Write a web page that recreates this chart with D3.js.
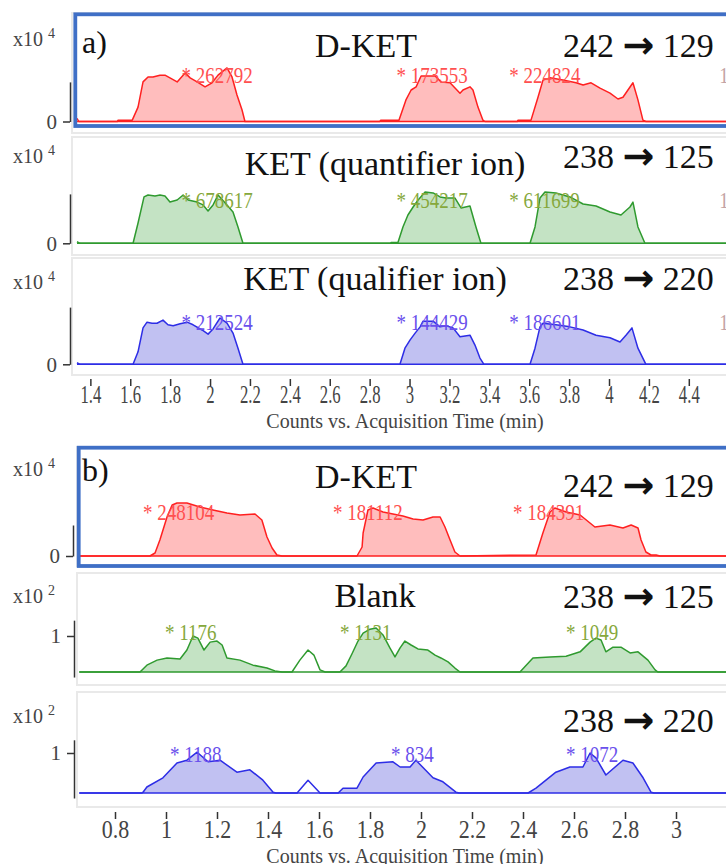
<!DOCTYPE html>
<html>
<head>
<meta charset="utf-8">
<script src="https://cdn.jsdelivr.net/npm/d3@7"></script>
<style>
body { margin: 0; background: #fff; }
svg { display: block; }
</style>
</head>
<body>
<script>
// section a) : time (min) , counts (x10^4)
var aDket = [[1.333,0.07],[1.342,0],[1.535,0],[1.539,0.03],[1.61,0.03],
  [1.639,0.32],[1.664,0.88],[1.689,0.99],[1.714,0.99],[1.749,1.03],[1.774,1.03],[1.799,0.97],[1.835,0.88],[1.875,1.08],[1.9,0.97],[1.935,0.88],[1.975,0.77],[2.01,0.86],[2.04,1.03],[2.085,1.19],[2.11,0.99],[2.135,0.59],[2.16,0.26],[2.175,0],
  [2.85,0],[2.857,0.03],[2.947,0.03],[2.982,0.48],[3.008,0.7],[3.033,0.77],[3.058,1.01],[3.128,1.01],[3.158,0.88],[3.203,0.86],[3.253,0.63],[3.268,0.7],[3.303,0.77],[3.318,0.7],[3.343,0.32],[3.368,0.03],[3.378,0],
  [3.54,0],[3.544,0.03],[3.609,0.03],[3.644,0.54],[3.669,0.92],[3.704,0.97],[3.769,0.92],[3.835,0.86],[3.87,0.81],[3.91,0.86],[3.955,0.74],[4.005,0.63],[4.045,0.5],[4.07,0.54],[4.12,0.86],[4.145,0.48],[4.17,0.03],[4.185,0],[4.6,0]];

var aQuan = [[1.333,0.08],[1.348,0],[1.614,0],
  [1.639,1.07],[1.669,2.44],[1.689,2.54],[1.724,2.49],[1.749,2.54],[1.774,2.49],[1.799,2.17],[1.835,2.28],[1.865,2.54],[1.89,2.28],[1.935,2.17],[1.965,2.02],[1.99,1.7],[2.015,2.02],[2.04,2.54],[2.085,2.02],[2.115,1.65],[2.14,0.86],[2.165,0],
  [2.905,0],[2.907,0.04],[2.942,0.04],[2.967,0.86],[2.992,1.49],[3.018,1.91],[3.043,2.28],[3.078,2.7],[3.118,2.65],[3.153,2.44],[3.183,2.38],[3.228,2.38],[3.258,1.86],[3.303,1.96],[3.333,0.86],[3.358,0],
  [3.604,0],[3.629,0.86],[3.654,2.38],[3.679,2.7],[3.734,2.65],[3.804,2.44],[3.87,2.07],[3.935,1.96],[4.005,1.65],[4.06,1.49],[4.105,1.91],[4.12,2.17],[4.145,0.86],[4.18,0],[4.6,0]];

var aQual = [[1.333,0.03],[1.348,0],[1.614,0],
  [1.639,0.24],[1.664,0.7],[1.684,0.81],[1.709,0.79],[1.734,0.79],[1.764,0.85],[1.789,0.76],[1.815,0.74],[1.85,0.78],[1.885,0.81],[1.915,0.76],[1.96,0.66],[1.99,0.58],[2.015,0.68],[2.05,0.89],[2.085,0.79],[2.115,0.6],[2.14,0.31],[2.165,0],
  [2.952,0],[2.977,0.31],[3.003,0.47],[3.028,0.6],[3.053,0.72],[3.068,0.83],[3.118,0.83],[3.153,0.72],[3.183,0.74],[3.218,0.7],[3.253,0.53],[3.303,0.56],[3.328,0.37],[3.353,0.12],[3.373,0],
  [3.604,0],[3.629,0.31],[3.654,0.72],[3.669,0.79],[3.734,0.76],[3.804,0.72],[3.87,0.66],[3.935,0.56],[4.005,0.51],[4.055,0.43],[4.085,0.56],[4.115,0.7],[4.145,0.31],[4.185,0],[4.6,0]];

// section b) : time (min) , counts (x10^4 for D-KET, x10^2 for blank)
var bDket = [[0.66,0],[0.937,0],[0.957,0.06],[0.976,0.32],[1.004,0.78],[1.024,1.02],[1.043,1.06],[1.082,1.06],[1.133,0.98],[1.184,0.92],[1.239,0.86],[1.29,0.82],[1.349,0.84],[1.376,0.72],[1.396,0.38],[1.416,0.16],[1.435,0.02],[1.455,0],
  [1.749,0],[1.769,0.18],[1.773,0.46],[1.792,0.92],[1.812,0.96],[1.851,0.88],[1.89,0.84],[1.929,0.8],[1.969,0.74],[2.008,0.72],[2.047,0.78],[2.075,0.78],[2.094,0.58],[2.114,0.32],[2.133,0.08],[2.153,0],
  [2.451,0.02],[2.478,0.46],[2.506,0.88],[2.525,0.96],[2.569,0.88],[2.624,0.82],[2.682,0.58],[2.741,0.62],[2.792,0.56],[2.824,0.62],[2.851,0.56],[2.863,0.32],[2.882,0.08],[2.902,0.02],[2.922,0.02],[2.937,0],[3.4,0]];

var bBlankQuan = [[0.66,0],[0.898,0],[0.925,0.19],[0.965,0.33],[1.004,0.39],[1.055,0.36],[1.082,0.61],[1.106,1.0],[1.125,0.94],[1.149,0.61],[1.173,0.83],[1.2,0.86],[1.22,0.75],[1.239,0.39],[1.29,0.33],[1.341,0.19],[1.396,0.11],[1.427,0.03],[1.455,0],
  [1.494,0],[1.525,0.33],[1.557,0.61],[1.58,0.47],[1.604,0.06],[1.624,0],
  [1.682,0],[1.706,0.17],[1.729,0.5],[1.753,0.86],[1.773,1.08],[1.8,1.19],[1.824,1.22],[1.851,1.03],[1.878,0.67],[1.898,0.42],[1.918,0.67],[1.937,0.86],[1.961,0.75],[1.988,0.64],[2.027,0.61],[2.055,0.47],[2.078,0.39],[2.106,0.28],[2.133,0.11],[2.153,0],
  [2.388,0],[2.439,0.39],[2.506,0.42],[2.569,0.44],[2.624,0.56],[2.663,0.83],[2.686,0.94],[2.706,0.89],[2.725,0.56],[2.753,0.69],[2.784,0.69],[2.82,0.53],[2.851,0.56],[2.89,0.33],[2.918,0.06],[2.929,0],[3.4,0]];

var bBlankQual = [[0.66,0],[0.906,0],[0.91,0.02],[0.925,0.15],[0.988,0.38],[1.043,0.75],[1.082,0.82],[1.122,1.02],[1.165,0.78],[1.212,0.82],[1.278,0.52],[1.329,0.58],[1.38,0.32],[1.42,0.02],[1.431,0],
  [1.514,0],[1.557,0.32],[1.604,0],
  [1.675,0],[1.694,0.12],[1.749,0.12],[1.773,0.4],[1.824,0.75],[1.89,0.78],[1.918,0.65],[1.957,0.65],[1.98,0.82],[2.047,0.38],[2.086,0.28],[2.137,0.02],[2.149,0],
  [2.42,0],[2.451,0.12],[2.529,0.52],[2.584,0.65],[2.635,0.65],[2.663,1.0],[2.686,0.88],[2.725,0.45],[2.792,0.82],[2.831,0.75],[2.871,0.38],[2.902,0.02],[2.914,0],[3.4,0]];

// integrated peak windows (min)
var aWindows = [[1.6,2.19],[2.94,3.385],[3.6,4.19]];
var bDketWindows = [[0.93,1.46],[1.745,2.16],[2.445,2.94]];
var bQuanWindows = [[0.895,1.46],[1.68,2.16],[2.385,2.935]];
var bQualWindows = [[0.9,1.44],[1.67,2.155],[2.415,2.92]];

// peak area annotations
var aLabelTimes = [1.857, 2.935, 3.5];
var aDketLabels = ['* 262792', '* 173553', '* 224824'];
var aQuanLabels = ['* 678617', '* 454217', '* 611699'];
var aQualLabels = ['* 212524', '* 144429', '* 186601'];
var bDketTimes = [0.91, 1.655, 2.361];
var bDketLabels = ['* 248104', '* 181112', '* 184391'];
var bQuanTimes = [0.996, 1.682, 2.569];
var bQuanLabels = ['* 1176', '* 1131', '* 1049'];
var bQualTimes = [1.016, 1.882, 2.569];
var bQualLabels = ['* 1188', '* 834', '* 1072'];

// axis ticks
var ticksA = [1.4,1.6,1.8,2,2.2,2.4,2.6,2.8,3,3.2,3.4,3.6,3.8,4,4.2,4.4,4.6];
var ticksB = [0.8,1,1.2,1.4,1.6,1.8,2,2.2,2.4,2.6,2.8,3];

var serif = '"Liberation Serif", "Times New Roman", serif';

var xA = d3.scaleLinear().domain([1.333, 4.6]).range([77, 728.7]);
var xB = d3.scaleLinear().domain([0.66, 3.4]).range([79.3, 778]);

var red = {line: '#ff2020', fill: '#ffbdbd', lab: '#ff5050'};
var green = {line: '#2f9a2f', fill: '#c4e3c4', lab: '#86a83c'};
var blue = {line: '#2d2de6', fill: '#c1c1f2', lab: '#6a50ec'};

var panels = [
  {data: aDket, x: xA, base: 121.5, k: 45, lo: 0, hi: 0.88, tick: 0, axisX: 70, col: red, win: aWindows,
   labs: aDketLabels, labT: aLabelTimes, labY: 83, mult: 4, multY: 46, frame: [72, 13, 120]},
  {data: aQuan, x: xA, base: 243.3, k: 19, lo: 0, hi: 2.6, tick: 0, axisX: 70, col: green, win: aWindows,
   labs: aQuanLabels, labT: aLabelTimes, labY: 208, mult: 4, multY: 163, frame: [72, 137, 118]},
  {data: aQual, x: xA, base: 364.3, k: 52, lo: 0, hi: 1.1, tick: 0, axisX: 70, col: blue, win: aWindows,
   labs: aQualLabels, labT: aLabelTimes, labY: 330, mult: 4, multY: 289, frame: [72, 258, 117]},
  {data: bDket, x: xB, base: 556, k: 50, lo: 0, hi: 0.62, tick: 0, axisX: 73, col: red, win: bDketWindows,
   labs: bDketLabels, labT: bDketTimes, labY: 520, mult: 4, multY: 476, frame: [77, 447, 119]},
  {data: bBlankQuan, x: xB, base: 672, k: 36, lo: -0.14, hi: 1.44, tick: 1, axisX: 74, col: green, win: bQuanWindows,
   labs: bQuanLabels, labT: bQuanTimes, labY: 640, mult: 2, multY: 603, frame: [77, 573, 112]},
  {data: bBlankQual, x: xB, base: 793, k: 40, lo: -0.125, hi: 1.33, tick: 1, axisX: 74, col: blue, win: bQualWindows,
   labs: bQualLabels, labT: bQualTimes, labY: 762, mult: 2, multY: 723, frame: [77, 692, 115]}
];

var svg = d3.select('body').append('svg')
  .attr('width', 726).attr('height', 864)
  .style('font-family', serif);

function inside(t, win) {
  return win.some(w => t >= w[0] && t <= w[1]);
}

panels.forEach(function(p) {
  var y = d3.scaleLinear().domain([0, 1]).range([p.base, p.base - p.k]);
  var g = svg.append('g');

  // faint plot frame
  g.append('rect')
    .attr('x', p.frame[0]).attr('y', p.frame[1])
    .attr('width', 720).attr('height', p.frame[2])
    .attr('fill', 'none').attr('stroke', '#e9e9e9').attr('stroke-width', 2);

  var area = d3.area()
    .defined(d => inside(d[0], p.win))
    .x(d => p.x(d[0]))
    .y0(y(0))
    .y1(d => y(d[1]));
  g.append('path').datum(p.data)
    .attr('d', area).attr('fill', p.col.fill);

  g.append('line')
    .attr('x1', p.x.range()[0]).attr('x2', p.x.range()[1])
    .attr('y1', y(0)).attr('y2', y(0))
    .attr('stroke', p.col.line).attr('stroke-width', 1.5);

  var line = d3.line().x(d => p.x(d[0])).y(d => y(d[1]));
  g.append('path').datum(p.data)
    .attr('d', line).attr('fill', 'none')
    .attr('stroke', p.col.line).attr('stroke-width', 1.5)
    .attr('stroke-linejoin', 'round');

  // peak annotations
  g.selectAll('text.lab')
    .data(p.labs)
    .enter().append('text')
      .attr('class', 'lab')
      .attr('transform', (d, i) => 'translate(' + p.x(p.labT[i]) + ',' + p.labY + ') scale(1,1.25)')
      .attr('font-size', 19)
      .attr('fill', p.col.lab)
      .text(d => d);

  // y axis
  var ya = y.copy().domain([p.lo, p.hi]).range([y(p.lo), y(p.hi)]);
  var ax = g.append('g')
    .attr('transform', 'translate(' + p.axisX + ',0)')
    .call(d3.axisLeft(ya).tickValues([p.tick]).tickSize(7).tickSizeOuter(0).tickPadding(6).tickFormat(d3.format('d')));
  ax.attr('font-family', serif).attr('font-size', 21);
  ax.selectAll('path, line').attr('stroke', '#333').attr('stroke-width', 1.5);
  ax.selectAll('text').attr('fill', '#444');

  var mt = g.append('text')
    .attr('x', 13).attr('y', p.multY)
    .attr('font-size', 20).attr('fill', '#444')
    .text('x10');
  mt.append('tspan')
    .attr('dx', 5).attr('dy', -8)
    .attr('font-size', 14)
    .text(p.mult);
});

// cut-off annotation of the next peak at the right edge (section a)
[83, 208, 330].forEach(function(yy) {
  svg.append('text')
    .attr('transform', 'translate(' + xA(4.552) + ',' + yy + ') scale(1,1.25)')
    .attr('font-size', 19).attr('fill', '#c4a4a4')
    .text('1');
});

// x axes
function xAxis(scale, ticks, ty, labelY, sx) {
  var g = svg.append('g')
    .attr('transform', 'translate(0,' + ty + ')')
    .call(d3.axisBottom(scale).tickValues(ticks).tickSize(7).tickSizeOuter(0)
      .tickFormat(d => scale(d) > 715 ? '' : String(d)));
  g.select('.domain').remove();
  g.attr('font-family', serif).attr('font-size', 22);
  g.selectAll('line').attr('stroke', '#333').attr('stroke-width', 1.5);
  g.selectAll('text')
    .attr('y', 0).attr('dy', '0')
    .attr('fill', '#444')
    .attr('transform', 'translate(0,' + labelY + ') scale(' + sx + ',1.15)');
}
xAxis(xA, ticksA, 379, 24, 0.76);
xAxis(xB, ticksB, 812, 26, 1);

svg.append('text')
  .attr('x', 405).attr('y', 428)
  .attr('text-anchor', 'middle')
  .attr('font-size', 20).attr('fill', '#444')
  .text('Counts vs. Acquisition Time (min)');
svg.append('text')
  .attr('x', 405).attr('y', 863)
  .attr('text-anchor', 'middle')
  .attr('font-size', 20).attr('fill', '#444')
  .text('Counts vs. Acquisition Time (min)');

// titles and transitions
var titles = [
  {t: 'D-KET', x: 366, y: 57},
  {t: 'KET (quantifier ion)', x: 385, y: 175},
  {t: 'KET (qualifier ion)', x: 375, y: 290},
  {t: 'D-KET', x: 366, y: 488},
  {t: 'Blank', x: 375, y: 607}
];
svg.selectAll('text.title')
  .data(titles)
  .enter().append('text')
    .attr('class', 'title')
    .attr('x', d => d.x).attr('y', d => d.y)
    .attr('text-anchor', 'middle')
    .attr('font-size', 34).attr('fill', '#111')
    .text(d => d.t);

var transitions = [
  {a: '242', b: '129', y: 57},
  {a: '238', b: '125', y: 168},
  {a: '238', b: '220', y: 290},
  {a: '242', b: '129', y: 497},
  {a: '238', b: '125', y: 608},
  {a: '238', b: '220', y: 732}
];
transitions.forEach(function(d) {
  var t = svg.append('text')
    .attr('x', 563).attr('y', d.y)
    .attr('font-size', 34).attr('fill', '#111');
  t.append('tspan').text(d.a + ' ');
  t.append('tspan')
    .attr('font-family', '"DejaVu Sans", sans-serif')
    .attr('font-weight', 'bold')
    .attr('font-size', 38)
    .attr('dy', 1)
    .text('\u2192');
  t.append('tspan').attr('dy', -1).text(' ' + d.b);
});

svg.append('text').attr('x', 82).attr('y', 53).attr('font-size', 32).attr('fill', '#111').text('a)');
svg.append('text').attr('x', 82).attr('y', 481).attr('font-size', 32).attr('fill', '#111').text('b)');

// blue highlight boxes
[[75.3, 14.3, 111.7], [78.7, 447.7, 118.3]].forEach(function(b) {
  svg.append('rect')
    .attr('x', b[0]).attr('y', b[1])
    .attr('width', 700).attr('height', b[2])
    .attr('fill', 'none')
    .attr('stroke', '#3f6fc6').attr('stroke-width', 3.8);
});
</script>
</body>
</html>
